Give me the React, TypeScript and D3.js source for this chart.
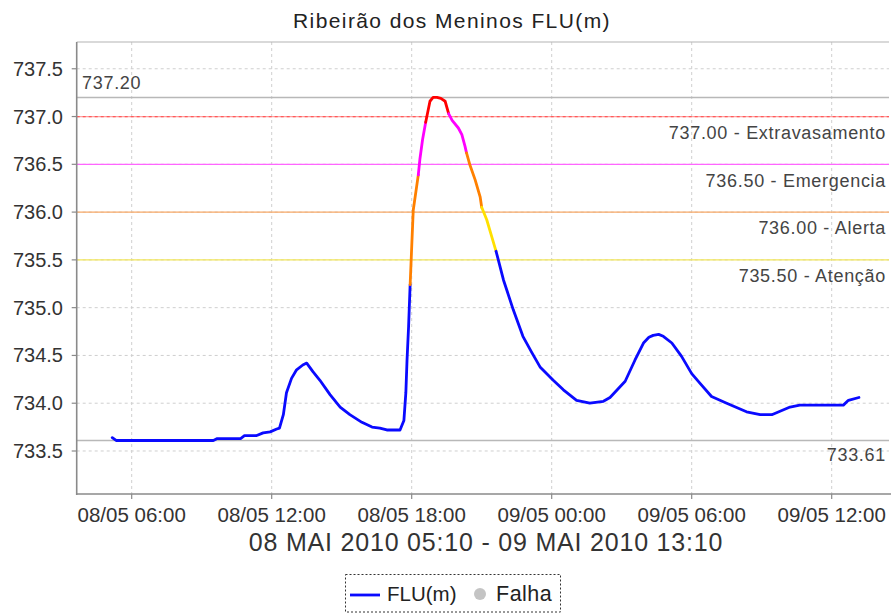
import React from "react";
import * as d3 from "d3";

// ---- data ----
const times: string[] = [
  "2010-05-08 05:10", "2010-05-08 05:20", "2010-05-08 06:00", "2010-05-08 07:00", "2010-05-08 08:00",
  "2010-05-08 09:30", "2010-05-08 09:40", "2010-05-08 10:40", "2010-05-08 10:50", "2010-05-08 11:20",
  "2010-05-08 11:38", "2010-05-08 11:56", "2010-05-08 12:13", "2010-05-08 12:20", "2010-05-08 12:30",
  "2010-05-08 12:38", "2010-05-08 12:51", "2010-05-08 13:04", "2010-05-08 13:20", "2010-05-08 13:30",
  "2010-05-08 13:46", "2010-05-08 14:04", "2010-05-08 14:30", "2010-05-08 14:56", "2010-05-08 15:21",
  "2010-05-08 15:52", "2010-05-08 16:18", "2010-05-08 16:38", "2010-05-08 16:56", "2010-05-08 17:30",
  "2010-05-08 17:40", "2010-05-08 17:45", "2010-05-08 17:48", "2010-05-08 17:52", "2010-05-08 17:56",
  "2010-05-08 18:04", "2010-05-08 18:17", "2010-05-08 18:21", "2010-05-08 18:28", "2010-05-08 18:36",
  "2010-05-08 18:47", "2010-05-08 18:55", "2010-05-08 19:05", "2010-05-08 19:15", "2010-05-08 19:26",
  "2010-05-08 19:35", "2010-05-08 19:44", "2010-05-08 20:00", "2010-05-08 20:09", "2010-05-08 20:17",
  "2010-05-08 20:21", "2010-05-08 20:30", "2010-05-08 20:43", "2010-05-08 20:56", "2010-05-08 21:00",
  "2010-05-08 21:13", "2010-05-08 21:26", "2010-05-08 21:37", "2010-05-08 21:56", "2010-05-08 22:21",
  "2010-05-08 22:46", "2010-05-08 23:09", "2010-05-08 23:30", "2010-05-09 00:04", "2010-05-09 00:30",
  "2010-05-09 01:04", "2010-05-09 01:38", "2010-05-09 02:13", "2010-05-09 02:30", "2010-05-09 03:09",
  "2010-05-09 03:34", "2010-05-09 03:56", "2010-05-09 04:10", "2010-05-09 04:21", "2010-05-09 04:35",
  "2010-05-09 04:47", "2010-05-09 05:09", "2010-05-09 05:34", "2010-05-09 06:00", "2010-05-09 06:21",
  "2010-05-09 06:51", "2010-05-09 07:30", "2010-05-09 08:21", "2010-05-09 08:56", "2010-05-09 09:26",
  "2010-05-09 10:13", "2010-05-09 10:38", "2010-05-09 12:30", "2010-05-09 12:43", "2010-05-09 13:10",
];
const values: number[] = [
  733.64, 733.61, 733.61, 733.61, 733.61,
  733.61, 733.63, 733.63, 733.66, 733.66,
  733.69, 733.70, 733.73, 733.74, 733.88,
  734.11, 734.26, 734.35, 734.40, 734.42,
  734.33, 734.24, 734.09, 733.96, 733.88,
  733.80, 733.75, 733.74, 733.72, 733.72,
  733.82, 734.11, 734.45, 734.80, 735.24,
  736.02, 736.39, 736.55, 736.76, 736.94,
  737.16, 737.20, 737.20, 737.19, 737.16,
  737.03, 736.96, 736.88, 736.81, 736.69,
  736.62, 736.49, 736.34, 736.16, 736.05,
  735.92, 735.74, 735.59, 735.29, 734.98,
  734.70, 734.53, 734.38, 734.24, 734.14,
  734.03, 734.00, 734.02, 734.06, 734.23,
  734.45, 734.63, 734.69, 734.71, 734.72,
  734.70, 734.63, 734.49, 734.31, 734.21,
  734.07, 734.00, 733.91, 733.88, 733.88,
  733.96, 733.98, 733.98, 734.03, 734.06,
];

const yTicks: number[] = [733.5, 734.0, 734.5, 735.0, 735.5, 736.0, 736.5, 737.0, 737.5];
const xTickTimes: string[] = [
  "2010-05-08 06:00", "2010-05-08 12:00", "2010-05-08 18:00",
  "2010-05-09 00:00", "2010-05-09 06:00", "2010-05-09 12:00",
];
const xTickLabels: string[] = ["08/05 06:00", "08/05 12:00", "08/05 18:00", "09/05 00:00", "09/05 06:00", "09/05 12:00"];

const thresholdValues: number[] = [737.0, 736.5, 736.0, 735.5];
const thresholdNames: string[] = ["Extravasamento", "Emergencia", "Alerta", "Atenção"];
const thresholdLineColors: string[] = ["#ffa0a0", "#ff66ff", "#f7a867", "#f2e65a"];
const thresholdDashColors: string[] = ["#ff5a5a", "", "", ""];
const seriesLevelColors: string[] = ["#ff0000", "#ff00ff", "#ff8000", "#ffe000"];
const baseColor = "#0a0aff";

const maxValue = 737.2;
const minValue = 733.61;

const title = "Ribeirão dos Meninos FLU(m)";
const periodLabel = "08 MAI 2010 05:10 - 09 MAI 2010 13:10";
const domainStart = "2010-05-08 03:38:36";
const domainEnd = "2010-05-09 14:27:22";

// ---- layout ----
const W = 891;
const H = 614;
const plotL = 76.7;
const plotR = 889;
const plotT = 42;
const plotB = 494;
const FONT = "'Liberation Sans', Arial, sans-serif";

const parse = d3.timeParse("%Y-%m-%d %H:%M");
const parseS = d3.timeParse("%Y-%m-%d %H:%M:%S");

function levelColor(v: number): string {
  for (let i = 0; i < thresholdValues.length; i++) {
    if (v >= thresholdValues[i]) return seriesLevelColors[i];
  }
  return baseColor;
}

export default function App() {
  const x = d3.scaleTime().domain([parseS(domainStart)!, parseS(domainEnd)!]).range([plotL, plotR]);
  const y = d3.scaleLinear().domain([733.05, 737.78]).range([plotB, plotT]);

  const pts = times.map((t, i) => ({ t: parse(t)!, v: values[i] }));
  const line = d3
    .line<{ t: Date; v: number }>()
    .x((d) => x(d.t))
    .y((d) => y(d.v));

  // group segments by colour (segment coloured by its end point level)
  const runs: { color: string; pts: { t: Date; v: number }[] }[] = [];
  for (let i = 1; i < pts.length; i++) {
    const c = levelColor(pts[i].v);
    const last = runs[runs.length - 1];
    if (last && last.color === c) last.pts.push(pts[i]);
    else runs.push({ color: c, pts: [pts[i - 1], pts[i]] });
  }

  const xTicks = xTickTimes.map((s) => parse(s)!);

  return (
    <svg width={W} height={H} style={{ position: "absolute", left: 0, top: 0, background: "#fff" }}>
      <rect x={0} y={0} width={W} height={H} fill="#fff" />
      <text x={452} y={28} textAnchor="middle" fontFamily={FONT} fontSize={21} letterSpacing={1.4} fill="#222">
        {title}
      </text>

      {/* gridlines */}
      {yTicks.map((t) => (
        <line key={"gy" + t} x1={plotL} x2={plotR} y1={y(t)} y2={y(t)} stroke="#cfcfcf" strokeWidth={1} strokeDasharray="3,3" />
      ))}
      {xTicks.map((t, i) => (
        <line key={"gx" + i} x1={x(t)} x2={x(t)} y1={plotT} y2={plotB} stroke="#cfcfcf" strokeWidth={1} strokeDasharray="3,3" />
      ))}

      {/* top border */}
      <line x1={plotL} x2={plotR} y1={plotT} y2={plotT} stroke="#b4b4b4" strokeWidth={1.2} />

      {/* max / min markers */}
      <line x1={plotL} x2={plotR} y1={y(maxValue)} y2={y(maxValue)} stroke="#b8b8b8" strokeWidth={1.5} />
      <text x={82} y={y(maxValue) - 8.5} fontFamily={FONT} fontSize={18} letterSpacing={0.7} fill="#444">
        {maxValue.toFixed(2)}
      </text>
      <line x1={plotL} x2={plotR} y1={y(minValue)} y2={y(minValue)} stroke="#b8b8b8" strokeWidth={1.5} />
      <text x={886} y={y(minValue) + 21} textAnchor="end" fontFamily={FONT} fontSize={18} letterSpacing={0.7} fill="#444">
        {minValue.toFixed(2)}
      </text>

      {/* thresholds */}
      {thresholdValues.map((v, i) => (
        <g key={"th" + v}>
          <line x1={plotL} x2={plotR} y1={y(v)} y2={y(v)} stroke={thresholdLineColors[i]} strokeWidth={1.3} />
          {thresholdDashColors[i] ? (
            <line x1={plotL} x2={plotR} y1={y(v)} y2={y(v)} stroke={thresholdDashColors[i]} strokeWidth={1.3} strokeDasharray="3,3" />
          ) : null}
          <text x={886} y={y(v) + 22.3} textAnchor="end" fontFamily={FONT} fontSize={18} letterSpacing={0.7} fill="#444">
            {v.toFixed(2) + " - " + thresholdNames[i]}
          </text>
        </g>
      ))}

      {/* series */}
      {runs.map((r, i) => (
        <path key={"r" + i} d={line(r.pts) || ""} fill="none" stroke={r.color} strokeWidth={2.8} strokeLinejoin="round" strokeLinecap="round" />
      ))}

      {/* axes */}
      <line x1={plotL} x2={plotL} y1={plotT} y2={plotB + 1} stroke="#8a8a8a" strokeWidth={1.6} />
      <line x1={plotL} x2={plotR + 3} y1={plotB} y2={plotB} stroke="#8a8a8a" strokeWidth={1.6} />
      {yTicks.map((t) => (
        <g key={"yt" + t}>
          <line x1={plotL - 5} x2={plotL} y1={y(t)} y2={y(t)} stroke="#8a8a8a" strokeWidth={1.2} />
          <text x={63} y={y(t) + 7} textAnchor="end" fontFamily={FONT} fontSize={20} fill="#333">
            {t.toFixed(1)}
          </text>
        </g>
      ))}
      {xTicks.map((t, i) => (
        <g key={"xt" + i}>
          <line x1={x(t)} x2={x(t)} y1={plotB} y2={plotB + 5} stroke="#8a8a8a" strokeWidth={1.2} />
          <text x={x(t)} y={522} textAnchor="middle" fontFamily={FONT} fontSize={20.5} fill="#333">
            {xTickLabels[i]}
          </text>
        </g>
      ))}

      <text x={486} y={551} textAnchor="middle" fontFamily={FONT} fontSize={25} letterSpacing={0.8} fill="#333">
        {periodLabel}
      </text>

      {/* legend */}
      <rect x={345.5} y={574.5} width={215} height={37.5} fill="#fff" stroke="#333" strokeWidth={1} strokeDasharray="2,2" />
      <line x1={350} x2={380} y1={595} y2={595} stroke={baseColor} strokeWidth={2.8} />
      <text x={387} y={601} fontFamily={FONT} fontSize={20.5} fill="#222">FLU(m)</text>
      <circle cx={480} cy={594} r={6} fill="#c4c4c4" />
      <text x={496} y={601} fontFamily={FONT} fontSize={21.5} letterSpacing={0.5} fill="#222">Falha</text>
    </svg>
  );
}
